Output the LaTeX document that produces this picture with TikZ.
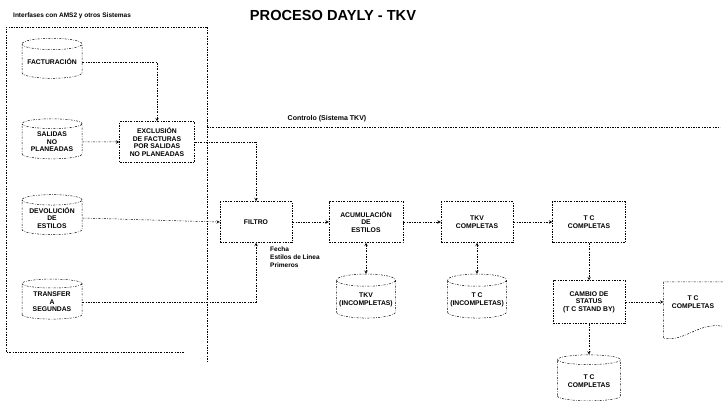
\documentclass[tikz,border=0pt]{standalone}
\usepackage{fontspec}
\setmainfont{Liberation Sans}
\usetikzlibrary{calc, shapes.geometric}

\newcommand{\etich}{\fontsize{6.8}{7.6}\selectfont\bfseries}

\tikzset{
  linea/.style={line width=0.5pt, dash pattern=on 2pt off 1.4pt on 0.6pt off 1.4pt},
  freccia/.style={linea, ->, >=stealth},
  processo/.style={draw, linea, minimum width=72pt, minimum height=41pt, inner sep=1pt, align=center, font=\etich},
  archivio/.style={cylinder, shape border rotate=90, aspect=0.22, draw, linea, minimum width=60pt, minimum height=40pt, inner sep=1pt, align=center, font=\etich}
}

\begin{document}
\begin{tikzpicture}[x=1pt, y=-1pt]
  \useasboundingbox (0,0) rectangle (725,401);

  % Titoli
  \node[font=\fontsize{14.6}{16}\selectfont\bfseries] (titolo) at (333,15) {PROCESO DAYLY - TKV};
  \node[anchor=west, font=\fontsize{6.5}{7}\selectfont\bfseries, inner sep=0pt] (interf) at (13,16) {Interfases con AMS2 y otros Sistemas};
  \node[font=\fontsize{7}{8}\selectfont\bfseries, inner sep=0pt] (contr) at (327,119) {Controlo (Sistema TKV)};

  % Riquadri delle due zone
  \draw[linea] (207,27) -- (6,27) -- (6,352) -- (185,352);
  \draw[linea] (207,27) -- (207,120);
  \draw[linea, line width=0.8pt] (207,120) -- (207,362);
  \draw[linea] (207,127) -- (720,127);

  % Archivi di ingresso
  \node[archivio] (fact)  at (52,62)  {FACTURACIÓN};
  \node[archivio] (sal)   at (52,142) {SALIDAS\\NO\\PLANEADAS};
  \node[archivio] (dev)   at (52,218) {DEVOLUCIÓN\\DE\\ESTILOS};
  \node[archivio] (trans) at (52,302) {TRANSFER\\A\\SEGUNDAS};

  % Processi
  \node[processo, minimum width=75pt] (excl) at (157,142) {EXCLUSIÓN\\DE FACTURAS\\POR SALIDAS\\NO PLANEADAS};
  \node[processo] (filtro) at (256,222) {FILTRO};
  \node[processo, minimum width=74pt] (acum) at (366,222) {ACUMULACIÓN\\DE\\ESTILOS};
  \node[processo] (tkvcomp) at (477,222) {TKV\\COMPLETAS};
  \node[processo, minimum width=73pt] (tccomp) at (589,222) {T C\\COMPLETAS};
  \node[processo, minimum width=72pt, minimum height=43pt] (cambio) at (589,302) {CAMBIO DE\\STATUS\\(T C STAND BY)};

  % Archivi del sistema
  \node[archivio, minimum width=59pt, minimum height=44pt] (tkvinc) at (366,300) {TKV\\(INCOMPLETAS)};
  \node[archivio, minimum width=59pt, minimum height=44pt] (tcinc) at (477,300) {T C\\(INCOMPLETAS)};
  \node[archivio, minimum width=63pt, minimum height=46pt] (tcfin) at (589,381) {T C\\COMPLETAS};

  % Documento di uscita
  \node[minimum width=59pt, minimum height=40pt, inner sep=1pt, align=center, font=\etich] (doc) at (693,302) {T C\\COMPLETAS};
  \draw[linea] (doc.north east) -- (doc.north west) -- ($(doc.south west)+(0,16)$)
    .. controls ($(doc.south west)+(22,20)$) and ($(doc.south east)+(-25,0)$) .. ($(doc.south east)+(0,4)$);

  % Dati aggiuntivi del filtro
  \node[anchor=north west, align=left, font=\fontsize{6.5}{8}\selectfont\bfseries, inner sep=0pt] (dati) at (270,247) {Fecha\\Estilos de Linea\\Primeros};

  % Flussi
  \draw[freccia] (fact.east) -| (excl.north);
  \draw[freccia] (sal.east) -- (excl.west);
  \draw[freccia] (excl.east) -| (filtro.north);
  \draw[freccia] (dev.east) -- (filtro.west);
  \draw[freccia] (trans.east) -| (filtro.south);
  \draw[freccia] (filtro.east) -- (acum.west);
  \draw[freccia, <->] (acum.south) -- (tkvinc.top);
  \draw[freccia] (acum.east) -- (tkvcomp.west);
  \draw[freccia, <->] (tkvcomp.south) -- (tcinc.top);
  \draw[freccia] (tkvcomp.east) -- (tccomp.west);
  \draw[freccia] (tccomp.south) -- (cambio.north);
  \draw[freccia] (cambio.east) -- (doc.west);
  \draw[freccia] (cambio.south) -- (tcfin.top);
\end{tikzpicture}
\end{document}
